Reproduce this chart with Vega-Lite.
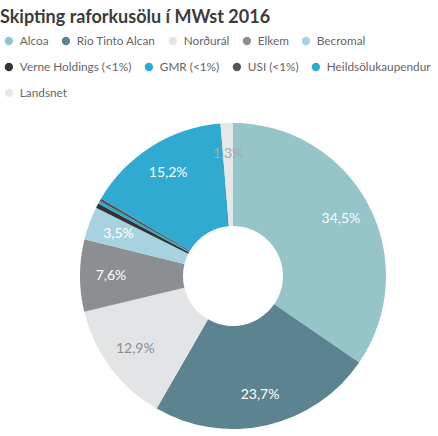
{
  "$schema": "https://vega.github.io/schema/vega-lite/v6.json",
  "autosize": {"type": "none"},
  "padding": {"left": 0, "top": 123, "right": 0, "bottom": 0},
  "width": 466,
  "height": 306,
  "background": "white",
  "config": {
    "view": {"stroke": null},
    "font": "Lato",
    "legend": {
      "labelFont": "Lato",
      "labelFontSize": 11.8,
      "labelColor": "#666666",
      "symbolType": "circle",
      "symbolSize": 70,
      "symbolStrokeWidth": 0,
      "labelOffset": 5,
      "columnPadding": 11,
      "title": null,
      "orient": "none",
      "direction": "horizontal",
      "labelLimit": 300
    }
  },
  "title": {
    "text": "Skipting raforkusölu í MWst 2016",
    "anchor": "start",
    "font": "Lato",
    "fontSize": 18,
    "fontWeight": "bold",
    "color": "#3c3c3c",
    "offset": 8
  },
  "data": {
    "values": [
      {"company": "Alcoa", "value": 34.5, "order": 1, "row": 1, "label": "34,5%"},
      {"company": "Rio Tinto Alcan", "value": 23.7, "order": 2, "row": 1, "label": "23,7%"},
      {"company": "Norðurál", "value": 12.9, "order": 3, "row": 1, "label": "12,9%"},
      {"company": "Elkem", "value": 7.6, "order": 4, "row": 1, "label": "7,6%"},
      {"company": "Becromal", "value": 3.5, "order": 5, "row": 1, "label": "3,5%"},
      {"company": "Verne Holdings (<1%)", "value": 0.5, "order": 6, "row": 2, "label": ""},
      {"company": "GMR (<1%)", "value": 0.3, "order": 7, "row": 2, "label": ""},
      {"company": "USI (<1%)", "value": 0.3, "order": 8, "row": 2, "label": ""},
      {"company": "Heildsölukaupendur", "value": 15.2, "order": 9, "row": 2, "label": "15,2%"},
      {"company": "Landsnet", "value": 1.3, "order": 10, "row": 3, "label": "1,3%"}
    ]
  },
  "transform": [
    {"stack": "value", "groupby": [], "sort": [{"field": "order", "order": "ascending"}], "as": ["v0", "v1"]}
  ],
  "layer": [
    {
      "transform": [{"filter": "datum.row === 1"}],
      "mark": {"type": "arc", "outerRadius": 153, "innerRadius": 50, "strokeWidth": 0},
      "encoding": {
        "theta": {"field": "v0", "type": "quantitative", "scale": {"domain": [0, 99.8]}},
        "theta2": {"field": "v1"},
        "color": {
          "field": "company",
          "type": "nominal",
          "scale": {
            "domain": ["Alcoa", "Rio Tinto Alcan", "Norðurál", "Elkem", "Becromal"],
            "range": ["#95c4c9", "#5b8490", "#e3e4e5", "#8c8f91", "#a7d3e1"]
          },
          "legend": {"legendX": 3, "legendY": -88}
        }
      }
    },
    {
      "transform": [{"filter": "datum.row === 2"}],
      "mark": {"type": "arc", "outerRadius": 153, "innerRadius": 50, "strokeWidth": 0},
      "encoding": {
        "theta": {"field": "v0", "type": "quantitative"},
        "theta2": {"field": "v1"},
        "color": {
          "field": "company",
          "type": "nominal",
          "scale": {
            "domain": ["Verne Holdings (<1%)", "GMR (<1%)", "USI (<1%)", "Heildsölukaupendur"],
            "range": ["#333333", "#2aa9d1", "#555555", "#30aad1"]
          },
          "legend": {"legendX": 3, "legendY": -62}
        }
      }
    },
    {
      "transform": [{"filter": "datum.row === 3"}],
      "mark": {"type": "arc", "outerRadius": 153, "innerRadius": 50, "strokeWidth": 0},
      "encoding": {
        "theta": {"field": "v0", "type": "quantitative"},
        "theta2": {"field": "v1"},
        "color": {
          "field": "company",
          "type": "nominal",
          "scale": {"domain": ["Landsnet"], "range": ["#e6e7e8"]},
          "legend": {"legendX": 3, "legendY": -36}
        }
      }
    },
    {
      "mark": {"type": "text", "radius": 122, "font": "Lato", "fontSize": 14},
      "encoding": {
        "theta": {"field": "value", "type": "quantitative", "stack": true},
        "order": {"field": "order", "type": "quantitative"},
        "text": {"field": "label"},
        "color": {
          "condition": [
            {"test": "datum.company === 'Norðurál'", "value": "#8c8f92"},
            {"test": "datum.company === 'Landsnet'", "value": "#a3abae"}
          ],
          "value": "white"
        }
      }
    }
  ],
  "resolve": {"scale": {"color": "independent"}}
}
